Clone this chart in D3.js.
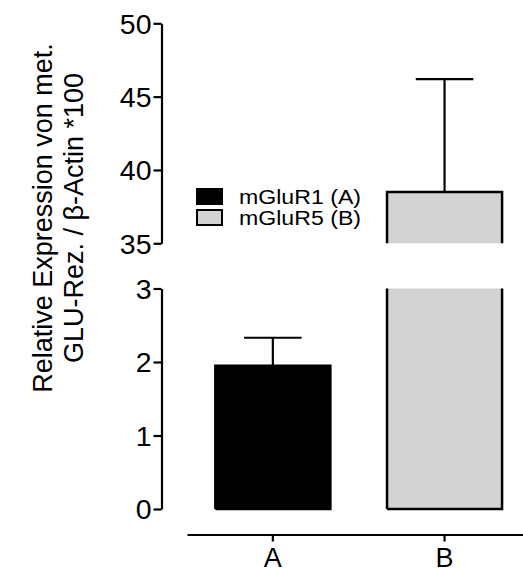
<!DOCTYPE html>
<html><head><meta charset="utf-8">
<script src="https://cdn.jsdelivr.net/npm/d3@7"></script>
<style>
body{margin:0;background:#fff}
svg{display:block}
text{font-family:"Liberation Sans",Arial,Helvetica,sans-serif;fill:#000}
</style>
</head><body>
<svg id="chart" width="523" height="572"></svg>
<script>
// ---- data ----
const categories = ["A", "B"];
const seriesNames = ["mGluR1 (A)", "mGluR5 (B)"];
const means = [1.95, 38.5];
const errors = [0.38, 7.7];
const upperTicks = [35, 40, 45, 50];
const lowerTicks = [0, 1, 2, 3];
const barColors = ["#000000", "#d3d3d3"];
const titleLines = ["Relative Expression von met.", "GLU-Rez. / \u03B2-Actin *100"];

// ---- layout ----
const svg = d3.select("#chart");
const axisX = 161.5;
const segments = [
  {domain: [35, 50], range: [243.3, 23.3], ticks: upperTicks},
  {domain: [0, 3], range: [509, 288.5], ticks: lowerTicks}
];
segments.forEach(s => s.scale = d3.scaleLinear().domain(s.domain).range(s.range));

const x = d3.scaleBand().domain(categories).range([187, 530.4])
  .paddingInner(0.33).paddingOuter(0.165);

const data = categories.map((c, i) => ({cat: c, mean: means[i], err: errors[i], color: barColors[i], name: seriesNames[i]}));

// ---- y axes (broken) ----
segments.forEach(s => {
  const g = svg.append("g").attr("transform", `translate(${axisX},0)`)
    .call(d3.axisLeft(s.scale).tickValues(s.ticks).tickFormat(d3.format("d"))
      .tickSize(8).tickSizeOuter(0).tickPadding(2));
  g.attr("font-family", null).attr("font-size", null);
  g.select(".domain").attr("stroke", "#000").attr("stroke-width", 2.2);
  g.selectAll(".tick line").attr("stroke", "#000").attr("stroke-width", 2.2);
  g.selectAll(".tick text").style("font-size", "28.5px")
    .attr("fill", "#000").attr("dy", "0.34em");
});

// ---- bars ----
const barG = svg.append("g");
data.forEach(d => {
  const x0 = x(d.cat), w = x.bandwidth();
  segments.forEach(s => {
    const [lo, hi] = s.domain;
    if (d.mean <= lo) return;
    const top = Math.min(d.mean, hi);
    const yTop = s.scale(top), yBot = s.scale(lo);
    barG.append("rect").attr("x", x0).attr("y", yTop).attr("width", w).attr("height", yBot - yTop)
      .attr("fill", d.color);
    // outline
    const p = d3.path();
    p.moveTo(x0, yBot); p.lineTo(x0, yTop);
    if (d.mean <= hi) { p.lineTo(x0 + w, yTop); } else { p.moveTo(x0 + w, yTop); }
    p.lineTo(x0 + w, yBot);
    if (lo === 0) p.lineTo(x0, yBot);
    barG.append("path").attr("d", p.toString()).attr("fill", "none")
      .attr("stroke", "#000").attr("stroke-width", 2.5).attr("stroke-linejoin", "miter");
    // error bar
    const eTop = d.mean + d.err;
    if (d.mean >= lo && d.mean <= hi) {
      const cx = x0 + w / 2;
      const capW = w * 0.5;
      const eg = barG.append("g").attr("stroke", "#000").attr("stroke-width", 2.2);
      eg.append("line").attr("x1", cx).attr("x2", cx).attr("y1", s.scale(d.mean)).attr("y2", s.scale(eTop));
      eg.append("line").attr("x1", cx - capW / 2).attr("x2", cx + capW / 2)
        .attr("y1", s.scale(eTop)).attr("y2", s.scale(eTop));
    }
  });
});

// ---- x axis ----
const xg = svg.append("g").attr("transform", "translate(0,534.5)")
  .call(d3.axisBottom(x).tickSize(7).tickSizeOuter(0).tickPadding(6));
xg.attr("font-family", null).attr("font-size", null);
xg.select(".domain").attr("stroke", "#000").attr("stroke-width", 2.2);
xg.selectAll(".tick line").attr("stroke", "#000").attr("stroke-width", 2.2);
xg.selectAll(".tick text").style("font-size", "27px").attr("fill", "#000");

// ---- y title ----
const tg = svg.append("g").attr("transform", "translate(0,218) rotate(-90)");
titleLines.forEach((t, i) => {
  tg.append("text").attr("x", 0).attr("y", 52 + i * 31).attr("text-anchor", "middle")
    .style("font-size", "27px").text(t);
});

// ---- legend ----
const lg = svg.append("g").attr("transform", "translate(196,188)");
data.forEach((d, i) => {
  const row = lg.append("g").attr("transform", `translate(0,${i * 21})`);
  row.append("rect").attr("x", 1).attr("y", 1).attr("width", 25).attr("height", 15)
    .attr("fill", d.color).attr("stroke", "#000").attr("stroke-width", 2);
  row.append("text").attr("x", 43).attr("y", 15.5).style("font-size", "20px")
    .attr("textLength", 122).attr("lengthAdjust", "spacingAndGlyphs").text(d.name);
});
</script>
</body></html>
